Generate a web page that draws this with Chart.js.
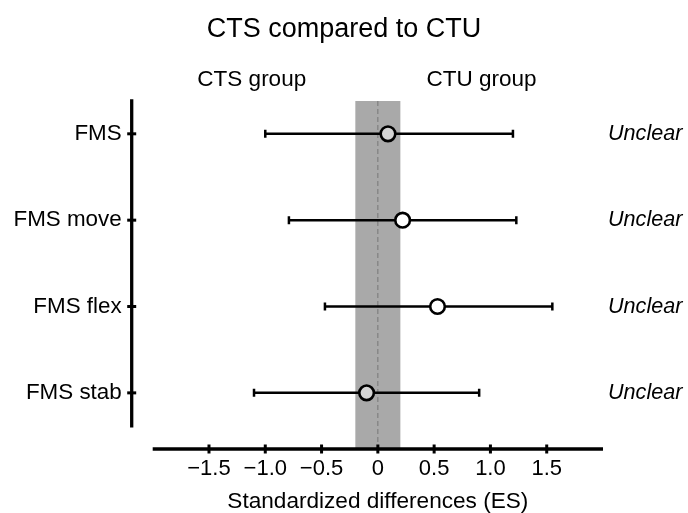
<!DOCTYPE html>
<html>
<head>
<meta charset="utf-8">
<script src="https://cdn.jsdelivr.net/npm/chart.js@4.4.1/dist/chart.umd.min.js"></script>
<style>
html, body { margin: 0; padding: 0; background: #fff; }
#wrap { width: 688px; height: 513px; position: relative; }
</style>
</head>
<body>
<div id="wrap"><canvas id="myChart"></canvas></div>
<script>
const categories = ['FMS', 'FMS move', 'FMS flex', 'FMS stab'];
const estimates = [0.09, 0.22, 0.53, -0.10];
const lower = [-1.00, -0.79, -0.47, -1.10];
const upper = [1.20, 1.23, 1.55, 0.90];
const outcomes = ['Unclear', 'Unclear', 'Unclear', 'Unclear'];
const xTicks = [-1.5, -1.0, -0.5, 0, 0.5, 1.0, 1.5];
const trivialBand = [-0.2, 0.2];
const groupLabels = [{ text: 'CTS group', value: -1.12 }, { text: 'CTU group', value: 0.92 }];

const FONT = "'Liberation Sans', Arial, sans-serif";

const inBand = (v) => v >= trivialBand[0] && v <= trivialBand[1];

const forest = {
    id: 'forest',
    beforeDatasetsDraw(chart) {
        const { ctx, chartArea, scales: { x, y } } = chart;
        ctx.save();
        // smallest worthwhile change band
        const b0 = x.getPixelForValue(trivialBand[0]);
        const b1 = x.getPixelForValue(trivialBand[1]);
        ctx.fillStyle = '#a9a9a9';
        ctx.fillRect(b0, chartArea.top, b1 - b0, chartArea.bottom - chartArea.top);

        // zero line
        const zx = x.getPixelForValue(0);
        ctx.strokeStyle = '#777';
        ctx.lineWidth = 1;
        ctx.setLineDash([5, 3]);
        ctx.beginPath();
        ctx.moveTo(zx, chartArea.top);
        ctx.lineTo(zx, chartArea.bottom);
        ctx.stroke();
        ctx.setLineDash([]);

        // confidence intervals
        ctx.strokeStyle = '#000';
        ctx.lineWidth = 2.5;
        categories.forEach((c, i) => {
            const py = y.getPixelForValue(i);
            const x0 = x.getPixelForValue(lower[i]);
            const x1 = x.getPixelForValue(upper[i]);
            ctx.beginPath();
            ctx.moveTo(x0, py);
            ctx.lineTo(x1, py);
            ctx.moveTo(x0, py - 4);
            ctx.lineTo(x0, py + 4);
            ctx.moveTo(x1, py - 4);
            ctx.lineTo(x1, py + 4);
            ctx.stroke();
        });
        ctx.restore();
    },
    afterDraw(chart) {
        const { ctx, chartArea, scales: { x, y } } = chart;
        ctx.save();
        ctx.strokeStyle = '#000';

        // y axis line (detached from plot)
        const ax = chartArea.left - 21;
        ctx.lineWidth = 3.3;
        ctx.beginPath();
        ctx.moveTo(ax, y.getPixelForValue(-0.4));
        ctx.lineTo(ax, y.getPixelForValue(3.4));
        ctx.stroke();
        ctx.lineWidth = 3;
        categories.forEach((c, i) => {
            const py = y.getPixelForValue(i);
            ctx.beginPath();
            ctx.moveTo(ax - 4.5, py);
            ctx.lineTo(ax + 4.5, py);
            ctx.stroke();
        });

        // x axis line
        const ay = chartArea.bottom;
        ctx.lineWidth = 3.3;
        ctx.beginPath();
        ctx.moveTo(chartArea.left, ay);
        ctx.lineTo(chartArea.right, ay);
        ctx.stroke();
        ctx.lineWidth = 3;
        xTicks.forEach((v) => {
            const px = x.getPixelForValue(v);
            ctx.beginPath();
            ctx.moveTo(px, ay - 4.5);
            ctx.lineTo(px, ay + 4.5);
            ctx.stroke();
        });

        // group labels
        ctx.fillStyle = '#000';
        ctx.font = '22.5px ' + FONT;
        ctx.textAlign = 'center';
        ctx.textBaseline = 'middle';
        groupLabels.forEach((g) => {
            ctx.fillText(g.text, x.getPixelForValue(g.value), chartArea.top - 21);
        });
        ctx.restore();
    }
};

const ctx = document.getElementById('myChart');

new Chart(ctx, {
    type: 'scatter',
    plugins: [forest],
    data: {
        datasets: [{
            data: estimates.map((v, i) => ({ x: v, y: i })),
            pointRadius: 7.3,
            pointHoverRadius: 7.3,
            pointBorderWidth: 2.6,
            pointBorderColor: '#000',
            pointBackgroundColor: (c) => inBand(estimates[c.dataIndex]) ? '#d4d4d4' : '#ffffff',
            clip: false
        }]
    },
    options: {
        responsive: true,
        maintainAspectRatio: false,
        animation: false,
        events: [],
        layout: { padding: 0 },
        plugins: {
            legend: { display: false },
            tooltip: { enabled: false },
            title: {
                display: true,
                text: 'CTS compared to CTU',
                color: '#000',
                font: { family: FONT, size: 27, weight: 'normal' },
                padding: { top: 13.5, bottom: 55.1 }
            }
        },
        scales: {
            x: {
                type: 'linear',
                min: -2,
                max: 2,
                afterBuildTicks: (s) => { s.ticks = xTicks.map((v) => ({ value: v })); },
                afterFit: (s) => { s.height = 64; },
                ticks: {
                    autoSkip: false,
                    maxRotation: 0,
                    color: '#000',
                    padding: 7,
                    font: { family: FONT, size: 22 },
                    callback: (v) => v === 0 ? '0' : (v < 0 ? '\u2212' : '') + Math.abs(v).toFixed(1)
                },
                grid: { display: false, drawTicks: false },
                border: { display: false },
                title: {
                    display: true,
                    text: 'Standardized differences (ES)',
                    color: '#000',
                    font: { family: FONT, size: 22.6 },
                    padding: { top: 0, bottom: -2 }
                }
            },
            y: {
                type: 'linear',
                position: 'left',
                reverse: true,
                min: -0.38,
                max: 3.65,
                afterBuildTicks: (s) => { s.ticks = categories.map((c, i) => ({ value: i })); },
                afterFit: (s) => { s.width = 152.7; },
                ticks: {
                    autoSkip: false,
                    color: '#000',
                    padding: 31,
                    font: { family: FONT, size: 22.4 },
                    callback: (v) => categories[v]
                },
                grid: { display: false, drawTicks: false },
                border: { display: false }
            },
            y2: {
                type: 'linear',
                position: 'right',
                reverse: true,
                min: -0.38,
                max: 3.65,
                afterBuildTicks: (s) => { s.ticks = outcomes.map((c, i) => ({ value: i })); },
                afterFit: (s) => { s.width = 85; },
                ticks: {
                    autoSkip: false,
                    color: '#000',
                    padding: 5,
                    font: { family: FONT, size: 21.6, style: 'italic' },
                    callback: (v) => outcomes[v]
                },
                grid: { display: false, drawTicks: false },
                border: { display: false }
            }
        }
    }
});
</script>
</body>
</html>
